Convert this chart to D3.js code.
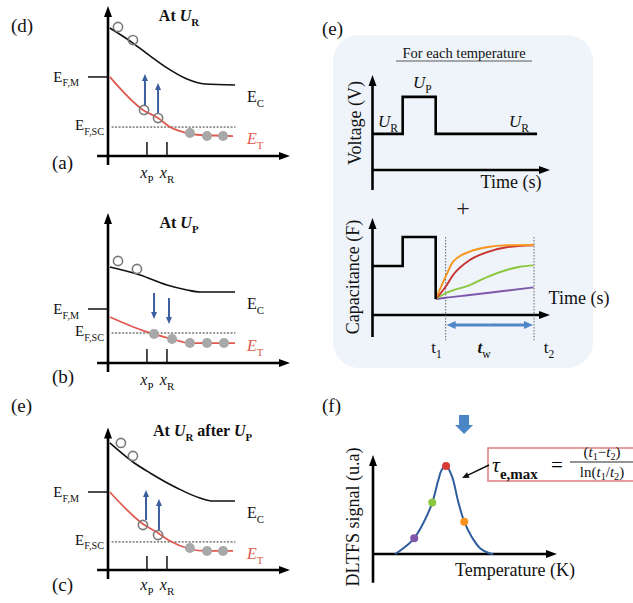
<!DOCTYPE html>
<html><head><meta charset="utf-8">
<script src="https://cdn.jsdelivr.net/npm/d3@7"></script>
<style>body{margin:0;background:#fff}</style>
</head><body><svg id="c" width="633" height="603"></svg>
<script>
// ---------- band diagram data (position 0-100, energy 0-100) ----------
const ecA = [[1,85.3],[13.7,75.3],[23.1,66.7],[32.4,58.7],[43.4,51.3],[53.3,48],[69.8,47.3]];
const etA = [[1,52.7],[19.2,30.7],[27.5,25.3],[34.1,19.3],[43.4,15.3],[50.5,14],[68.7,13.3]];
const openA = [[5.5,86],[13.7,77.3],[19.8,30.7],[27.5,25.3]];
const filledA = [[45,15.3],[54.4,13.3],[63.2,13.3]];
const arrowsA = [[20.3,34,54.7],[27.5,28.7,48.7]];
const levelsA = [52.7, 19.3]; // E_F,M , E_F,SC

const ecB = [[1,64],[17.6,58.7],[32.4,52],[43.4,48.7],[50.5,47.3],[69.8,47.3]];
const etB = [[1,30.7],[21.4,20.7],[35.2,16],[45,13.3],[69.8,13.3]];
const openB = [[5.5,68],[15.9,62.7]];
const filledB = [[25.3,19.3],[35.2,16],[45,13.3],[54.4,13.3],[63.7,13.3]];
const arrowsB = [[25.3,46.7,29.3],[33.5,43.3,26]];
const levelsB = [36, 20];

const ecC = [[1,84.7],[13.7,72],[23.1,64.7],[37.9,54.7],[50.5,48],[57.7,46],[69.8,46]];
const etC = [[1,52],[19.2,30.7],[27.5,24.7],[34.1,19.3],[45,14],[53.3,12.7],[68.7,12.7]];
const openC = [[7.1,84.7],[13.7,76],[19.2,30],[27.5,23.3]];
const filledC = [[45,14.7],[54.4,12.7],[63.2,12.7]];
const arrowsC = [[20.9,33.3,53.3],[28,26.7,47.3]];
const levelsC = [52, 18.7];

const positionTicks = [21.4, 32.4]; // x_P, x_R

// ---------- transient data (time 0-10) ----------
const voltageSteps = [[0,3.8],[1.7,3.8],[1.7,7.7],[3.56,7.7],[3.56,3.8],[9.27,3.8]];
const capSteps = [[0,5.05],[1.7,5.05],[1.7,8.04],[3.56,8.04],[3.56,1.65]];
const windowTimes = [4.12, 9.1]; // t1, t2
const capOrange = [[3.56,1.65],[4.12,3.95],[4.54,5.5],[5.48,6.53],[6.42,6.98],[7.55,7.19],[9.07,7.22]];
const capRed    = [[3.56,1.65],[4.12,2.92],[4.54,4.12],[5.48,5.67],[6.42,6.46],[7.55,6.98],[9.07,7.18]];
const capGreen  = [[3.56,1.65],[4.12,2.24],[5.48,3.09],[6.42,3.89],[7.55,4.64],[8.31,4.98],[9.07,5.12]];
const capPurple = [[3.56,1.65],[4.12,1.78],[5.48,2.06],[7.36,2.47],[9.07,2.85]];
const capColors = ['#f7941d','#c8312f','#8dc63f','#7e57a8'];

// ---------- DLTFS data ----------
const dltfs = [[1.2,0],[1.65,0.58],[2.24,1.59],[2.73,3.1],[3.22,5.19],[3.55,7.47],[3.73,8.48],[3.97,8.89],
  [4.28,7.91],[4.64,5.22],[4.96,3.26],[5.36,1.75],[5.82,0.58],[6.32,0.07],[6.54,0]];
const dltfsPoints = [[2.24,1.59],[3.22,5.19],[3.97,8.89],[4.96,3.26]];
const dltfsColors = ['#7e57a8','#8dc63f','#d93a35','#f7941d'];

// ---------- helpers ----------
const svg = d3.select('#c');
const serif = "'Liberation Serif','Times New Roman',serif";

function rich(g, x, y, parts, o={}) {
  const size = o.size || 15;
  const subShift = o.subShift !== undefined ? o.subShift : 0.3;
  const t = g.append('text').attr('x',x).attr('y',y).attr('font-family',serif)
    .attr('font-size',size).attr('text-anchor',o.anchor||'start')
    .attr('font-weight',o.weight||'normal').attr('fill',o.fill||'#111');
  if (o.rotate) t.attr('transform',`rotate(${o.rotate},${x},${y})`);
  let shift = 0;
  parts.forEach(p => {
    const ts = t.append('tspan').text(p.t);
    const target = p.sub ? size*subShift : 0;
    if (target !== shift) ts.attr('dy', target - shift);
    shift = target;
    if (p.sub) ts.attr('font-size', size*0.68);
    if (p.i) ts.attr('font-style','italic');
    if (p.b) ts.attr('font-weight','bold');
    if (p.fill) ts.attr('fill',p.fill);
  });
  return t;
}
function arrowLine(g, x1,y1,x2,y2, color, w, headLen, headW) {
  const dx=x2-x1, dy=y2-y1, L=Math.hypot(dx,dy), ux=dx/L, uy=dy/L;
  const bx=x2-ux*headLen, by=y2-uy*headLen;
  g.append('line').attr('x1',x1).attr('y1',y1).attr('x2',bx+ux*1).attr('y2',by+uy*1)
    .attr('stroke',color).attr('stroke-width',w);
  g.append('path').attr('d',`M${x2},${y2}L${bx-uy*headW/2},${by+ux*headW/2}L${bx+uy*headW/2},${by-ux*headW/2}Z`)
    .attr('fill',color);
}

// ---------- band diagrams ----------
function band(cfg) {
  const g = svg.append('g');
  const x = d3.scaleLinear().domain([0,100]).range([108,290]);
  const y = d3.scaleLinear().domain([0,100]).range([cfg.axisY, cfg.axisY-150]);
  const line = d3.line().x(d=>x(d[0])).y(d=>y(d[1])).curve(d3.curveMonotoneX);
  arrowLine(g, x(0), y(-6), x(0), y(cfg.top), '#000', 2.6, 11, 8);
  arrowLine(g, x(-6), y(0), x(100), y(0), '#000', 2.6, 11, 8);
  positionTicks.forEach(t => g.append('line').attr('x1',x(t)).attr('x2',x(t)).attr('y1',y(0)).attr('y2',y(9.3))
    .attr('stroke','#111').attr('stroke-width',1.5));
  rich(g, x(positionTicks[0]), y(0)+cfg.tickLab, [{t:'x',i:true},{t:'P',sub:true}], {anchor:'middle',size:16});
  rich(g, x(positionTicks[1]), y(0)+cfg.tickLab, [{t:'x',i:true},{t:'R',sub:true}], {anchor:'middle',size:16});
  g.append('line').attr('x1',88).attr('x2',x(0)).attr('y1',y(cfg.levels[0])).attr('y2',y(cfg.levels[0]))
    .attr('stroke','#111').attr('stroke-width',1.5);
  rich(g, 79, y(cfg.levels[0])+5, [{t:'E'},{t:'F,M',sub:true}], {anchor:'end',size:15});
  g.append('line').attr('x1',x(2)).attr('x2',x(70)).attr('y1',y(cfg.levels[1])).attr('y2',y(cfg.levels[1]))
    .attr('stroke','#333').attr('stroke-width',1).attr('stroke-dasharray','2,1.5');
  rich(g, 104, y(cfg.levels[1])+3, [{t:'E'},{t:'F,SC',sub:true}], {anchor:'end',size:15});
  g.append('path').attr('d',line(cfg.ec)).attr('fill','none').attr('stroke','#111').attr('stroke-width',1.6);
  g.append('path').attr('d',line(cfg.et)).attr('fill','none').attr('stroke','#e05a50').attr('stroke-width',1.8);
  const ecEnd = cfg.ec[cfg.ec.length-1], etEnd = cfg.et[cfg.et.length-1];
  rich(g, 247, y(ecEnd[1])+17, [{t:'E'},{t:'C',sub:true}], {size:16});
  rich(g, 247, y(etEnd[1])+8, [{t:'E',i:true},{t:'T',sub:true}], {size:16, fill:'#e05a50'});
  g.selectAll(null).data(cfg.filled).join('circle').attr('cx',d=>x(d[0])).attr('cy',d=>y(d[1])).attr('r',5)
    .attr('fill','#a8a8a8');
  g.selectAll(null).data(cfg.open).join('circle').attr('cx',d=>x(d[0])).attr('cy',d=>y(d[1])).attr('r',4.6)
    .attr('fill','none').attr('stroke','#7a7a7a').attr('stroke-width',1.6);
  cfg.arrows.forEach(a => arrowLine(g, x(a[0]), y(a[1]), x(a[0]), y(a[2]), '#3a5e9e', 2, 7, 6));
  rich(g, cfg.titleX, cfg.titleY, cfg.title, {anchor:cfg.titleAnchor, size:16, weight:'bold'});
  rich(g, 52, cfg.subY, [{t:cfg.sub}], {size:19});
  return g;
}

band({axisY:156, top:100, ec:ecA, et:etA, open:openA, filled:filledA, arrows:arrowsA, levels:levelsA,
  tickLab:22, title:[{t:'At '},{t:'U',i:true},{t:'R',sub:true}], titleX:179, titleY:21, titleAnchor:'middle',
  sub:'(a)', subY:169});
band({axisY:363, top:100, ec:ecB, et:etB, open:openB, filled:filledB, arrows:arrowsB, levels:levelsB,
  tickLab:22, title:[{t:'At '},{t:'U',i:true},{t:'P',sub:true}], titleX:179, titleY:228, titleAnchor:'middle',
  sub:'(b)', subY:383});
band({axisY:570, top:95, ec:ecC, et:etC, open:openC, filled:filledC, arrows:arrowsC, levels:levelsC,
  tickLab:20, title:[{t:'At '},{t:'U',i:true},{t:'R',sub:true},{t:' after '},{t:'U',i:true},{t:'P',sub:true}],
  titleX:153, titleY:436, titleAnchor:'start', sub:'(c)', subY:591});

rich(svg, 11, 32, [{t:'(d)'}], {size:19});
rich(svg, 11, 412, [{t:'(e)'}], {size:19});
rich(svg, 322, 35, [{t:'(e)'}], {size:19});
rich(svg, 322, 412, [{t:'(f)'}], {size:19});

// ---------- (e) transient panel ----------
svg.insert('rect',':first-child').attr('x',333).attr('y',35).attr('width',260).attr('height',333).attr('rx',26)
  .attr('fill','#eef4f9');
const ge = svg.append('g');
rich(ge, 464, 58, [{t:'For each temperature'}], {anchor:'middle', size:14.5});
ge.append('line').attr('x1',396).attr('x2',532).attr('y1',61).attr('y2',61).attr('stroke','#333').attr('stroke-width',0.8);

const tS = d3.scaleLinear().domain([0,10]).range([372.5,550]);
const vS = d3.scaleLinear().domain([0,10]).range([170,75]);
const stepLine = (ys) => d3.line().x(d=>tS(d[0])).y(d=>ys(d[1]));
arrowLine(ge, tS(0), vS(-2.1), tS(0), vS(10), '#000', 2.6, 11, 8);
arrowLine(ge, tS(0), vS(0), tS(10), vS(0), '#000', 2.6, 11, 8);
ge.append('path').attr('d',stepLine(vS)(voltageSteps)).attr('fill','none').attr('stroke','#000').attr('stroke-width',2.6);
rich(ge, 378, 127, [{t:'U',i:true},{t:'R',sub:true}], {size:17});
rich(ge, 413, 88, [{t:'U',i:true},{t:'P',sub:true}], {size:17});
rich(ge, 509, 127, [{t:'U',i:true},{t:'R',sub:true}], {size:17});
rich(ge, 511, 188, [{t:'Time (s)'}], {anchor:'middle', size:18});
rich(ge, 361, 123, [{t:'Voltage (V)'}], {anchor:'middle', size:18, rotate:-90});

ge.append('text').attr('x',463).attr('y',216).attr('text-anchor','middle').attr('font-family',serif)
  .attr('font-size',24).attr('fill','#222').text('+');

const cS = d3.scaleLinear().domain([0,10]).range([315,218]);
arrowLine(ge, tS(0), cS(-2.27), tS(0), cS(10), '#000', 2.6, 11, 8);
arrowLine(ge, tS(0), cS(0), tS(10), cS(0), '#000', 2.6, 11, 8);
windowTimes.forEach(t => ge.append('line').attr('x1',tS(t)).attr('x2',tS(t)).attr('y1',cS(8.04)).attr('y2',cS(-2.6))
  .attr('stroke','#555').attr('stroke-width',0.9).attr('stroke-dasharray','1.5,1.5'));
const curveLine = d3.line().x(d=>tS(d[0])).y(d=>cS(d[1])).curve(d3.curveMonotoneX);
[capPurple, capGreen, capRed, capOrange].forEach((c,i) => ge.append('path').attr('d',curveLine(c)).attr('fill','none')
  .attr('stroke', capColors[3-i]).attr('stroke-width',1.9));
ge.append('path').attr('d',stepLine(cS)(capSteps)).attr('fill','none').attr('stroke','#000').attr('stroke-width',2.6);
arrowLine(ge, (tS(windowTimes[0])+tS(windowTimes[1]))/2, cS(-1.03), tS(windowTimes[0])+1, cS(-1.03), '#4f86c6', 3, 9, 8);
arrowLine(ge, (tS(windowTimes[0])+tS(windowTimes[1]))/2, cS(-1.03), tS(windowTimes[1])-1, cS(-1.03), '#4f86c6', 3, 9, 8);
rich(ge, 579, 304, [{t:'Time (s)'}], {anchor:'middle', size:18});
rich(ge, 359, 277, [{t:'Capacitance (F)'}], {anchor:'middle', size:18, rotate:-90});
rich(ge, tS(windowTimes[0])-9, 353, [{t:'t'},{t:'1',sub:true}], {anchor:'middle', size:17});
rich(ge, 484, 353, [{t:'t',i:true,b:true},{t:'w',sub:true}], {anchor:'middle', size:17});
rich(ge, tS(windowTimes[1])+15, 353, [{t:'t'},{t:'2',sub:true}], {anchor:'middle', size:17});

// ---------- (f) DLTFS ----------
const gf = svg.append('g');
const TS = d3.scaleLinear().domain([0,10]).range([373,557]);
const SS = d3.scaleLinear().domain([0,10]).range([554,455]);
arrowLine(gf, TS(0), SS(-2.9), TS(0), SS(10), '#000', 2.6, 11, 8);
arrowLine(gf, TS(0), SS(0), TS(10), SS(0), '#000', 2.6, 11, 8);
gf.append('path').attr('d', d3.line().x(d=>TS(d[0])).y(d=>SS(d[1])).curve(d3.curveCatmullRom)(dltfs))
  .attr('fill','none').attr('stroke','#2f5d9e').attr('stroke-width',2);
gf.selectAll(null).data(dltfsPoints).join('circle').attr('cx',d=>TS(d[0])).attr('cy',d=>SS(d[1])).attr('r',4)
  .attr('fill',(d,i)=>dltfsColors[i]);
rich(gf, 359, 517, [{t:'DLTFS signal (u.a)'}], {anchor:'middle', size:18, rotate:-90});
rich(gf, 515, 576, [{t:'Temperature (K)'}], {anchor:'middle', size:18});
const px = TS(dltfsPoints[2][0])+18;
gf.append('path').attr('d',`M${px-5},415L${px+5},415L${px+5},425L${px+9},425L${px},434L${px-9},425L${px-5},425Z`)
  .attr('fill','#4a85c6');
gf.append('rect').attr('x',488).attr('y',448).attr('width',150).attr('height',33).attr('fill','#fff')
  .attr('stroke','#e08585').attr('stroke-width',1.6);
arrowLine(gf, 489, 465, TS(dltfsPoints[2][0])+16, 478, '#111', 1.4, 7, 6);
rich(gf, 492, 472, [{t:'τ',i:true},{t:'e,max',sub:true,b:true}], {size:22});
gf.append('text').attr('x',557).attr('y',472).attr('text-anchor','middle').attr('font-family',serif)
  .attr('font-size',21).text('=');
rich(gf, 602, 457, [{t:'('},{t:'t',i:true},{t:'1',sub:true},{t:'−'},{t:'t',i:true},{t:'2',sub:true},{t:')'}],
  {anchor:'middle', size:15, subShift:0.18});
gf.append('line').attr('x1',570).attr('x2',633).attr('y1',462).attr('y2',462).attr('stroke','#111').attr('stroke-width',0.9);
rich(gf, 602, 477, [{t:'ln('},{t:'t',i:true},{t:'1',sub:true},{t:'/'},{t:'t',i:true},{t:'2',sub:true},{t:')'}],
  {anchor:'middle', size:15, subShift:0.18});
</script></body></html>
